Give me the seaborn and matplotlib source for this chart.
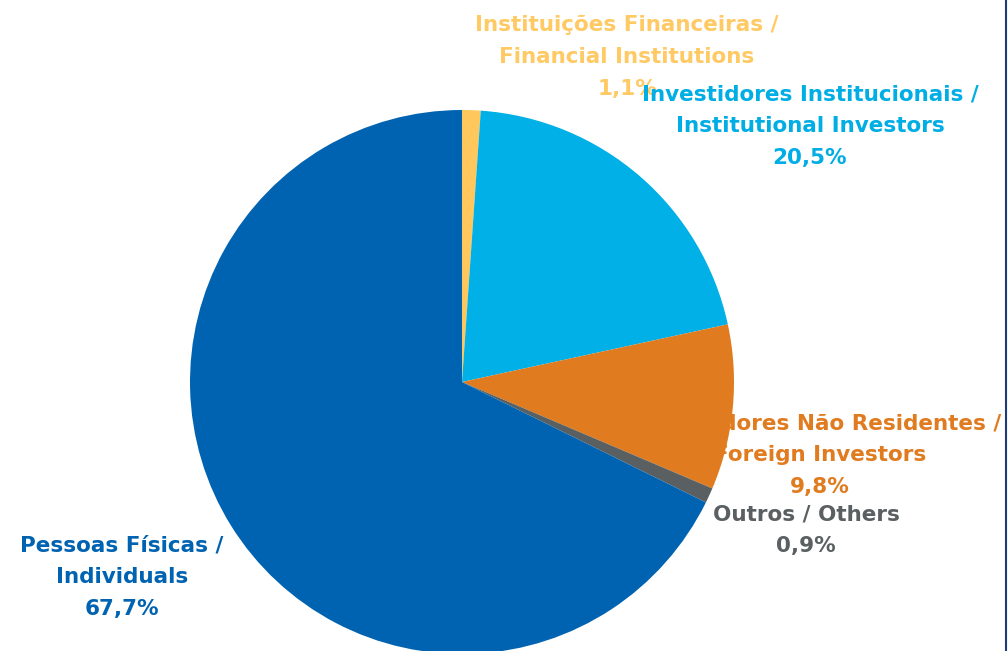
import matplotlib
matplotlib.use("Agg")
import matplotlib.pyplot as plt
import seaborn as sns
from matplotlib.lines import Line2D

# shareholder base by investor type (%)
categories = ["Instituições Financeiras /\nFinancial Institutions",
              "Investidores Institucionais /\nInstitutional Investors",
              "Investidores Não Residentes /\nForeign Investors",
              "Outros / Others",
              "Pessoas Físicas /\nIndividuals"]
shares = [1.1, 20.5, 9.8, 0.9, 67.7]
share_labels = ["1,1%", "20,5%", "9,8%", "0,9%", "67,7%"]
colors = ["#FFC75C", "#00B0E6", "#E07B1F", "#5A6061", "#0063B1"]
text_colors = ["#FFC964", "#00ADE4", "#E07B1F", "#5A6061", "#0063B1"]

sns.set_theme(style="white")
plt.rcParams['font.family'] = ['DejaVu Sans']

W, H = 1008, 651
fig = plt.figure(figsize=(W / 100, H / 100), dpi=100)
ax = fig.add_axes([0, 0, 1, 1])

wedges, _ = ax.pie(shares, colors=colors, startangle=90, counterclock=False,
                   center=(462, H - 382), radius=272, frame=True,
                   wedgeprops=dict(linewidth=0, zorder=3))
ax.set_xlim(0, W)
ax.set_ylim(0, H)
ax.set_aspect("equal")
ax.axis("off")

# label anchors in pixel space (x centre, y of middle line)
label_pos = [(627, 57), (810, 126), (820, 455), (806, 530), (122, 577)]
for cat, lab, col, (x, y) in zip(categories, share_labels, text_colors, label_pos):
    ax.text(x, H - y, cat + "\n" + lab, ha="center", va="center", color=col,
            fontsize=15.5, fontweight="bold", linespacing=1.72, zorder=2)

fig.add_artist(Line2D([1006 / W, 1006 / W], [0, 1], transform=fig.transFigure,
                      color="#1F3A7A", linewidth=1.5))

fig.savefig("out.png", dpi=100, facecolor="white")
